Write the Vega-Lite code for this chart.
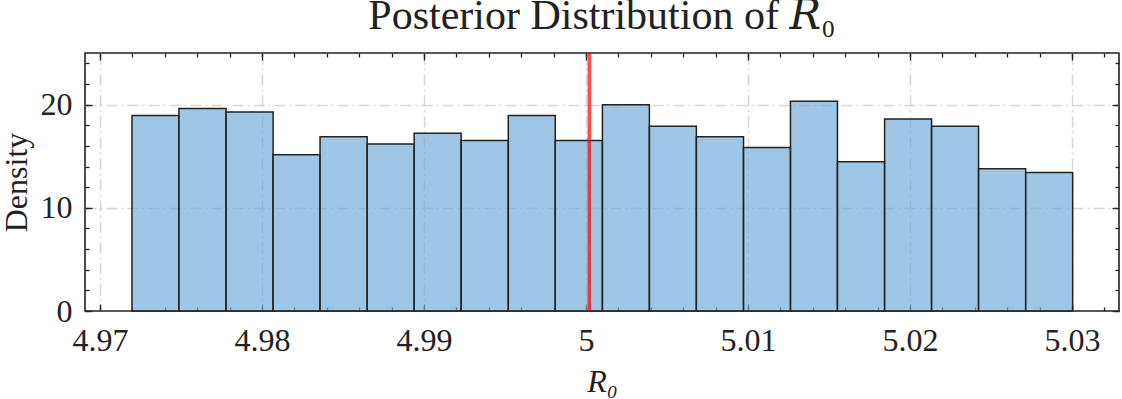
{
  "$schema": "https://vega.github.io/schema/vega-lite/v6.json",
  "width": 1034,
  "height": 258,
  "autosize": {"type": "none"},
  "padding": {"left": 85, "top": 53, "right": 3, "bottom": 88},
  "background": "white",
  "title": {
    "text": "Posterior Distribution of 𝑅₀",
    "font": "Liberation Serif, DejaVu Serif",
    "fontSize": 42,
    "fontWeight": "normal",
    "color": "#222222",
    "anchor": "middle",
    "frame": "group",
    "offset": 13
  },
  "config": {
    "view": {"stroke": "#222222", "strokeWidth": 1.6},
    "axis": {
      "labelFont": "Liberation Serif",
      "titleFont": "Liberation Serif",
      "labelColor": "#222222",
      "titleColor": "#222222",
      "labelFontSize": 32,
      "titleFontSize": 32,
      "titleFontWeight": "normal",
      "domain": false,
      "tickColor": "#222222",
      "tickWidth": 1.3
    }
  },
  "data": {
    "values": [
      {"bin_start": 4.97197, "bin_end": 4.97487, "density": 18.94},
      {"bin_start": 4.97487, "bin_end": 4.97778, "density": 19.63},
      {"bin_start": 4.97778, "bin_end": 4.98068, "density": 19.29},
      {"bin_start": 4.98068, "bin_end": 4.98358, "density": 15.15},
      {"bin_start": 4.98358, "bin_end": 4.98649, "density": 16.88},
      {"bin_start": 4.98649, "bin_end": 4.98939, "density": 16.19},
      {"bin_start": 4.98939, "bin_end": 4.99229, "density": 17.22},
      {"bin_start": 4.99229, "bin_end": 4.9952, "density": 16.53},
      {"bin_start": 4.9952, "bin_end": 4.9981, "density": 18.94},
      {"bin_start": 4.9981, "bin_end": 5.00101, "density": 16.53},
      {"bin_start": 5.00101, "bin_end": 5.00391, "density": 19.98},
      {"bin_start": 5.00391, "bin_end": 5.00681, "density": 17.91},
      {"bin_start": 5.00681, "bin_end": 5.00972, "density": 16.88},
      {"bin_start": 5.00972, "bin_end": 5.01262, "density": 15.84},
      {"bin_start": 5.01262, "bin_end": 5.01552, "density": 20.32},
      {"bin_start": 5.01552, "bin_end": 5.01843, "density": 14.47},
      {"bin_start": 5.01843, "bin_end": 5.02133, "density": 18.6},
      {"bin_start": 5.02133, "bin_end": 5.02423, "density": 17.91},
      {"bin_start": 5.02423, "bin_end": 5.02714, "density": 13.78},
      {"bin_start": 5.02714, "bin_end": 5.03004, "density": 13.43}
    ]
  },
  "layer": [
    {
      "mark": {"type": "bar", "fill": "#77aedb", "fillOpacity": 0.7, "stroke": "#222222", "strokeWidth": 1.5},
      "encoding": {
        "x": {
          "field": "bin_start", "type": "quantitative",
          "scale": {"domain": [4.96907, 5.0329], "nice": false, "zero": false},
          "axis": {
            "orient": "bottom",
            "values": [4.97, 4.98, 4.99, 5, 5.01, 5.02, 5.03],
            "format": "~g",
            "ticks": false, "tickSize": 0,
            "labelFont": "Liberation Serif", "labelFontSize": 32, "labelColor": "#222222",
            "labelPadding": 14,
            "grid": true, "gridColor": "#d6d6d6", "gridDash": [11, 4, 2, 4], "gridWidth": 1.5,
            "title": "R₀", "titleFont": "Liberation Serif, DejaVu Serif", "titleFontStyle": "italic", "titlePadding": 10
          }
        },
        "x2": {"field": "bin_end"},
        "y": {
          "field": "density", "type": "quantitative", "stack": null,
          "scale": {"domain": [0, 25], "nice": false},
          "axis": {
            "orient": "left",
            "values": [0, 10, 20],
            "ticks": false, "tickSize": 0,
            "labelFont": "Liberation Serif", "labelFontSize": 32, "labelColor": "#222222",
            "labelPadding": 13,
            "grid": true, "gridColor": "#d6d6d6", "gridDash": [11, 4, 2, 4], "gridWidth": 1.5,
            "gridOpacity": {"condition": {"test": "datum.value == 0", "value": 0}, "value": 1},
            "title": "Density", "titleFont": "Liberation Serif", "titlePadding": 7
          }
        },
        "y2": {"datum": 0}
      }
    },
    {
      "mark": {"type": "bar", "opacity": 0},
      "encoding": {
        "x": {
          "field": "bin_start", "type": "quantitative",
          "scale": {"domain": [4.96907, 5.0329], "nice": false, "zero": false},
          "axis": {"orient": "bottom", "values": [4.97, 4.98, 4.99, 5, 5.01, 5.02, 5.03], "labels": false, "grid": false, "tickSize": -7, "title": null}
        },
        "x2": {"field": "bin_end"},
        "y": {
          "field": "density", "type": "quantitative", "stack": null,
          "scale": {"domain": [0, 25], "nice": false},
          "axis": {"orient": "left", "values": [0, 10, 20], "labels": false, "grid": false, "tickSize": -7, "title": null}
        },
        "y2": {"datum": 0}
      }
    },
    {
      "mark": {"type": "bar", "opacity": 0},
      "encoding": {
        "x": {
          "field": "bin_start", "type": "quantitative",
          "scale": {"domain": [4.96907, 5.0329], "nice": false, "zero": false},
          "axis": {"orient": "bottom", "values": [4.97, 4.972, 4.974, 4.976, 4.978, 4.98, 4.982, 4.984, 4.986, 4.988, 4.99, 4.992, 4.994, 4.996, 4.998, 5, 5.002, 5.004, 5.006, 5.008, 5.01, 5.012, 5.014, 5.016, 5.018, 5.02, 5.022, 5.024, 5.026, 5.028, 5.03, 5.032], "labels": false, "grid": false, "tickSize": -4, "title": null}
        },
        "x2": {"field": "bin_end"},
        "y": {
          "field": "density", "type": "quantitative", "stack": null,
          "scale": {"domain": [0, 25], "nice": false},
          "axis": {"orient": "left", "values": [0, 2, 4, 6, 8, 10, 12, 14, 16, 18, 20, 22, 24], "labels": false, "grid": false, "tickSize": -4, "title": null}
        },
        "y2": {"datum": 0}
      }
    },
    {
      "mark": {"type": "bar", "opacity": 0},
      "encoding": {
        "x": {
          "field": "bin_start", "type": "quantitative",
          "scale": {"domain": [4.96907, 5.0329], "nice": false, "zero": false},
          "axis": {"orient": "top", "values": [4.97, 4.98, 4.99, 5, 5.01, 5.02, 5.03], "labels": false, "grid": false, "tickSize": -7, "title": null}
        },
        "x2": {"field": "bin_end"},
        "y": {
          "field": "density", "type": "quantitative", "stack": null,
          "scale": {"domain": [0, 25], "nice": false},
          "axis": {"orient": "right", "values": [0, 10, 20], "labels": false, "grid": false, "tickSize": -7, "title": null}
        },
        "y2": {"datum": 0}
      }
    },
    {
      "mark": {"type": "bar", "opacity": 0},
      "encoding": {
        "x": {
          "field": "bin_start", "type": "quantitative",
          "scale": {"domain": [4.96907, 5.0329], "nice": false, "zero": false},
          "axis": {"orient": "top", "values": [4.97, 4.972, 4.974, 4.976, 4.978, 4.98, 4.982, 4.984, 4.986, 4.988, 4.99, 4.992, 4.994, 4.996, 4.998, 5, 5.002, 5.004, 5.006, 5.008, 5.01, 5.012, 5.014, 5.016, 5.018, 5.02, 5.022, 5.024, 5.026, 5.028, 5.03, 5.032], "labels": false, "grid": false, "tickSize": -4, "title": null}
        },
        "x2": {"field": "bin_end"},
        "y": {
          "field": "density", "type": "quantitative", "stack": null,
          "scale": {"domain": [0, 25], "nice": false},
          "axis": {"orient": "right", "values": [0, 2, 4, 6, 8, 10, 12, 14, 16, 18, 20, 22, 24], "labels": false, "grid": false, "tickSize": -4, "title": null}
        },
        "y2": {"datum": 0}
      }
    },
    {
      "data": {"values": [{"r0": 5.0002}]},
      "mark": {"type": "rule", "color": "red", "opacity": 0.7, "strokeWidth": 3.5},
      "encoding": {
        "x": {
          "field": "r0", "type": "quantitative",
          "scale": {"domain": [4.96907, 5.0329], "nice": false, "zero": false},
          "axis": null
        }
      }
    }
  ],
  "resolve": {"axis": {"x": "independent", "y": "independent"}}
}
